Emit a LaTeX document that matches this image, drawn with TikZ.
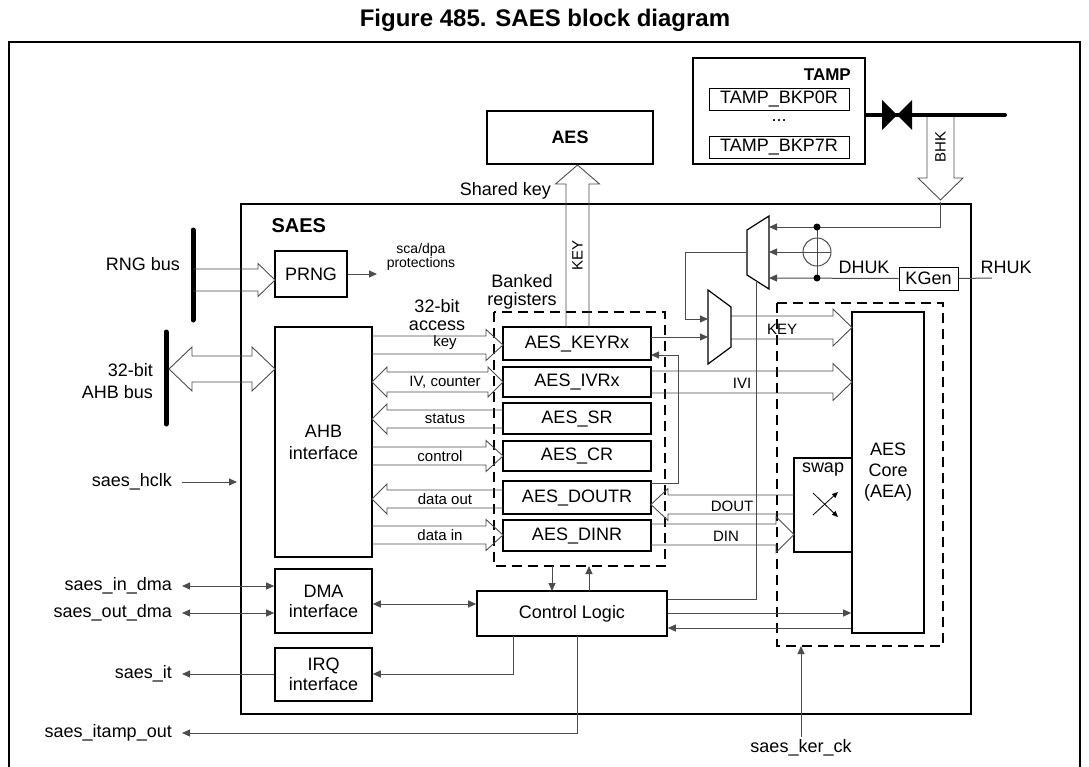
\documentclass[tikz,border=0pt]{standalone}
\usepackage{fontspec}
\setmainfont{Liberation Sans}
\usetikzlibrary{arrows.meta}
\begin{document}
\definecolor{ln}{gray}{0.3}
\newcommand\fs[1]{\fontsize{#1}{#1}\selectfont}
% hollow arrows: x1 x2 yc shaft-half head-half head-length
\newcommand\hR[6]{\draw[harr] (#1,#3-#4) -- (#2-#6,#3-#4) -- (#2-#6,#3-#5) -- (#2,#3) -- (#2-#6,#3+#5) -- (#2-#6,#3+#4) -- (#1,#3+#4);}
\newcommand\hL[6]{\draw[harr] (#1,#3-#4) -- (#2+#6,#3-#4) -- (#2+#6,#3-#5) -- (#2,#3) -- (#2+#6,#3+#5) -- (#2+#6,#3+#4) -- (#1,#3+#4);}
\newcommand\hD[6]{\draw[harr] (#3-#4,#1) -- (#3-#4,#2-#6) -- (#3-#5,#2-#6) -- (#3,#2) -- (#3+#5,#2-#6) -- (#3+#4,#2-#6) -- (#3+#4,#1);}
\newcommand\hU[6]{\draw[harr] (#3-#4,#1) -- (#3-#4,#2+#6) -- (#3-#5,#2+#6) -- (#3,#2) -- (#3+#5,#2+#6) -- (#3+#4,#2+#6) -- (#3+#4,#1);}
\newcommand\hB[6]{\draw[harr] (#1+#6,#3-#4) -- (#2-#6,#3-#4) -- (#2-#6,#3-#5) -- (#2,#3) -- (#2-#6,#3+#5) -- (#2-#6,#3+#4) -- (#1+#6,#3+#4) -- (#1+#6,#3+#5) -- (#1,#3) -- (#1+#6,#3-#5) -- cycle;}
\newcommand\bx[7][]{\node[box,#1,minimum width={(#5-#3)*1pt},minimum height={(#6-#4)*1pt}] (#2) at ({(#3+#5)/2},{(#4+#6)/2}) {#7};}
\begin{tikzpicture}[x=1pt,y=-1pt,
  box/.style={draw,line width=1.6pt,inner sep=0pt,align=center,font=\fs{18}},
  harr/.style={draw=ln,line width=0.9pt,line join=miter},
  thin/.style={draw=ln,line width=1pt},
  tip/.style={-{Triangle[length=8pt,width=7pt]}},
  btip/.style={{Triangle[length=8pt,width=7pt]}-{Triangle[length=8pt,width=7pt]}},
  lbl/.style={font=\fs{18},inner sep=0pt},
  slbl/.style={font=\fs{15},inner sep=0pt},
  dsh/.style={draw,line width=1.5pt,dash pattern=on 10pt off 6pt}]
\useasboundingbox (0,0) rectangle (1089,766);
\node[font=\bfseries\fs{24}] (title) at (545,20) {Figure 485. SAES block diagram};
\draw[line width=1.5pt] (9,770) -- (9,42) -- (1080,42) -- (1080,770);
% external boxes
\bx{aes}{487}{111}{653}{164}{\bfseries AES}
\node[draw,line width=1.8pt,minimum width=172pt,minimum height=106pt] (tamp) at (779,111) {};
\node[lbl,anchor=east,font=\bfseries\fs{17}] (tampt) at (851,75) {TAMP};
\bx[line width=1pt]{bk0}{709}{88}{849}{110}{TAMP\_BKP0R}
\node[lbl] (dots) at (779,121) {...};
\bx[line width=1pt]{bk7}{709}{136}{849}{158}{TAMP\_BKP7R}
\draw[line width=4pt,line cap=round] (tamp.east |- 0,115) -- (1005,115);
\fill (882,100) -- (897,115) -- (882,130) -- cycle;
\fill (912,100) -- (897,115) -- (912,130) -- cycle;
\hD{117}{200}{940.5}{13.5}{22.5}{22}
\node[slbl,rotate=90] (bhk) at (940.5,147) {BHK};
% SAES box
\draw[line width=2pt] (241,204) rectangle (971,714);
\node[font=\bfseries\fs{20},anchor=west] (saes) at (268,226) {SAES};
% buses
\draw[line width=5pt,line cap=round] (193,230) -- (193,320);
\draw[line width=5pt,line cap=round] (166,332) -- (166,424);
\node[lbl,anchor=east] (rngl) at (180,264) {RNG bus};
\node[lbl,anchor=east,align=right] (ahbl) at (153,381) {32-bit\\[4pt]AHB bus};
% boxes
\bx{prng}{275}{251}{347}{297}{PRNG}
\bx{ahb}{275}{327}{372}{557}{AHB\\[4pt]interface}
\bx{dma}{275}{569}{372}{633}{DMA\\[2pt]interface}
\bx{irq}{275}{648}{372}{701}{IRQ\\[2pt]interface}
\bx{keyr}{503}{327}{651}{360}{AES\_KEYRx}
\bx{ivr}{503}{367}{651}{397}{AES\_IVRx}
\bx{sr}{503}{403}{651}{434}{AES\_SR}
\bx{cr}{503}{441}{651}{471}{AES\_CR}
\bx{doutr}{503}{481}{651}{514}{AES\_DOUTR}
\bx{dinr}{503}{520}{651}{551}{AES\_DINR}
\bx{ctrl}{477}{591}{667}{636}{Control Logic}
\bx{core}{852}{312}{924}{633}{AES\\[3pt]Core\\[3pt](AEA)}
\node[box,minimum width=58pt,minimum height=94pt] (swap) at (823,505) {};
\node[lbl] (swapt) at (823,470) {swap};
\bx[line width=1pt]{kgen}{899}{267}{958}{290}{KGen}
\draw[dsh] (494,312) rectangle (665,566);
\draw[dsh] (777,303) rectangle (943,646);
% texts
\node[font=\fs{14},align=center,inner sep=0pt] (sca) at (421,257) {sca/dpa\\protections};
\node[lbl,align=center] (bank) at (522,292) {Banked\\registers};
\node[lbl,align=center] (acc) at (437,315) {32-bit\\access};
\node[lbl,anchor=east] (shk) at (551,191) {Shared key};
\node[lbl] (dhuk) at (864,267) {DHUK};
\node[lbl] (rhuk) at (1006,267) {RHUK};
% hollow arrows
\hR{193}{275}{280}{11}{16.5}{17}
\hB{169}{275}{369}{13}{22}{23}
\hR{372}{503}{345}{9}{15.5}{17}
\hB{372}{503}{382}{10}{15}{15}
\hL{503}{372}{419}{9}{15}{15}
\hR{372}{503}{456}{9}{15.5}{17}
\hL{503}{372}{499}{9}{15}{15}
\hR{372}{503}{535}{9}{15.5}{17}
\hU{327}{165}{577.5}{11.5}{22}{19}
\hR{731}{852}{327.5}{11.5}{18.5}{19}
\hR{651}{852}{382}{11}{18.5}{19}
\hL{794}{651}{504.5}{9.5}{16}{17}
\hR{651}{794}{534.5}{10.5}{18}{18}
\node[slbl] (kl) at (445,343) {key};
\node[slbl] (ivl) at (445,382) {IV, counter};
\node[slbl] (stl) at (445,419) {status};
\node[slbl] (ctl) at (440,456) {control};
\node[slbl] (dol) at (445,499) {data out};
\node[slbl] (dil) at (440,535) {data in};
\node[slbl,rotate=90] (keyv) at (577.5,255) {KEY};
\node[slbl] (keyh) at (782,329) {KEY};
\node[slbl] (ivi) at (742,383) {IVI};
\node[slbl] (doutl) at (732,506) {DOUT};
\node[slbl] (dinl) at (726,536) {DIN};
% muxes
\draw[line width=1.2pt] (747,230) -- (769,216) -- (769,289) -- (747,275) -- cycle;
\draw[line width=1.2pt] (708,290) -- (731,307) -- (731,347) -- (708,364) -- cycle;
\coordinate (m1o) at (747,252);
\coordinate (m2a) at (708,319);
\coordinate (m2b) at (708,337);
% key path
\draw[thin,tip] (940,202) -- (940,227) -- (769,227);
\draw[thin,tip] (kgen.west) -- (769,278);
\draw[thin] (kgen.east) -- (992,278);
\draw[thin] (817,227) -- (817,278);
\draw[thin] (817,252) circle (14);
\draw[thin,tip] (803,252) -- (769,252);
\draw[thin] (803,252) -- (831,252);
\fill (817,227) circle (3.5) (817,278) circle (3.5);
\draw[thin,tip] (m1o) -- (685,252) -- (685,319) -- (m2a);
\draw[thin,tip] (651,337) -- (m2b);
\draw[thin,tip] (651,483) -- (678,483) -- (678,355) -- (651,355);
\draw[thin] (ctrl.east |- 0,599) -- (756,599) -- (756,281);
% control connections
\draw[thin,tip] (ctrl.east |- 0,613) -- (core.west |- 0,613);
\draw[thin,tip] (core.west |- 0,628) -- (ctrl.east |- 0,628);
\draw[thin,tip] (552,566) -- (552,591);
\draw[thin,tip] (589,591) -- (589,566);
\draw[thin,btip] (dma.east |- 0,604) -- (ctrl.west |- 0,604);
\draw[thin,tip] (513,636) -- (513,674) -- (irq.east |- 0,674);
\coordinate (itampend) at (182,733);
\draw[thin,tip] (577,636) -- (577,733) -- (itampend);
\node[lbl,anchor=east] (itampl) at (172,733) {saes\_itamp\_out};
\draw[thin,tip] (prng.east |- 0,274) -- (377,274);
% left signals
\coordinate (hclk) at (182,482);
\draw[thin,tip] (hclk) -- (237,482);
\node[lbl,anchor=east] (hclkl) at (172,482) {saes\_hclk};
\draw[thin,btip] (182,586) -- (dma.west |- 0,586);
\node[lbl,anchor=east] (indl) at (172,586) {saes\_in\_dma};
\draw[thin,btip] (182,613) -- (dma.west |- 0,613);
\node[lbl,anchor=east] (outdl) at (172,613) {saes\_out\_dma};
\draw[thin,tip] (irq.west |- 0,674) -- (182,674);
\node[lbl,anchor=east] (itl) at (172,674) {saes\_it};
% ker ck
\coordinate (kck) at (801,737);
\draw[thin,tip] (kck) -- (801,646);
\node[lbl] (kckl) at (801,748) {saes\_ker\_ck};
% swap cross
\draw[line width=0.8pt,-{Triangle[length=6pt,width=5pt]}] (813,515) -- (838,492);
\draw[line width=0.8pt,-{Triangle[length=6pt,width=5pt]}] (813,493) -- (838,517);
\end{tikzpicture}
\end{document}
